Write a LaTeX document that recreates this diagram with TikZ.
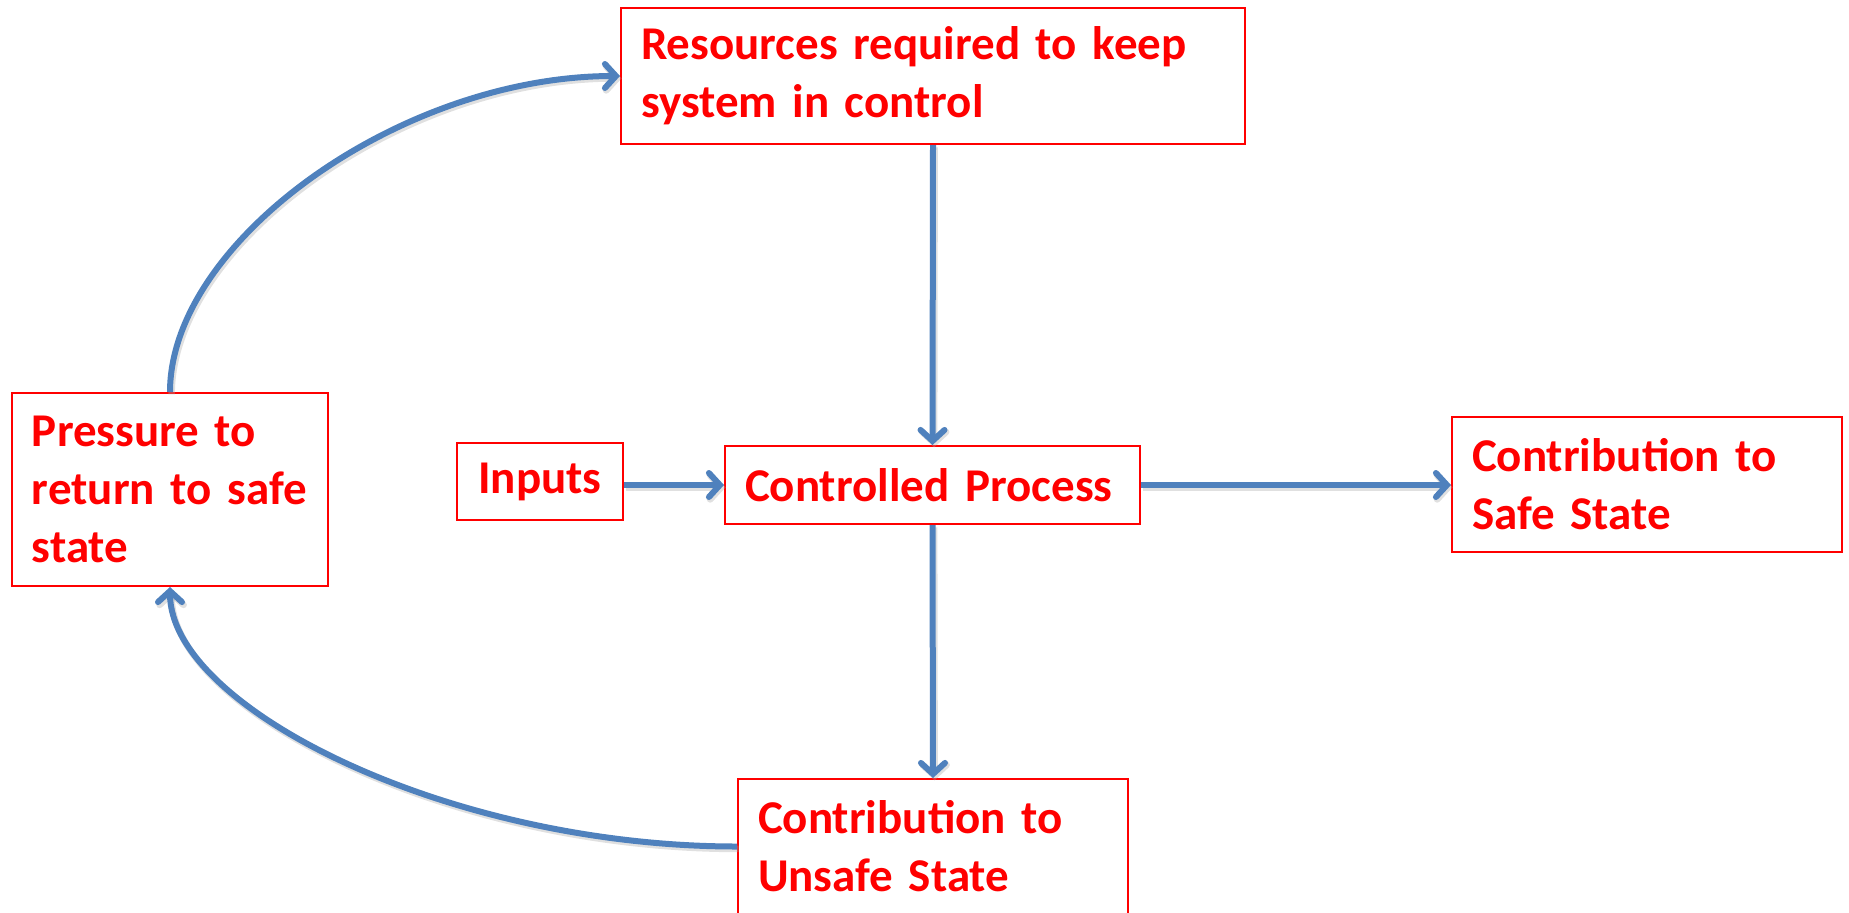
\documentclass[tikz,border=0pt]{standalone}
\usepackage{fontspec}
\setmainfont{Carlito}
\usetikzlibrary{arrows.meta}
\definecolor{flowblue}{RGB}{79,129,189}
\definecolor{boxred}{RGB}{255,0,0}
\tikzset{
  stagebox/.style={draw=boxred, line width=1pt, text=boxred, fill=white,
    font=\bfseries\fontsize{23.5pt}{29pt}\selectfont, align=left,
    inner xsep=10pt, inner ysep=0pt, minimum height=#1},
  flow/.style={draw=flowblue, line width=3pt,
    -{Straight Barb[length=5.5pt,width=12pt,line cap=round]},
    preaction={draw=black!35, opacity=0.35, line width=3.3pt,
      transform canvas={shift={(0.8pt,-1.2pt)}}}}
}
\begin{document}
\begin{tikzpicture}[x=0.5pt,y=-0.5pt]
\useasboundingbox (0,0) rectangle (1849,912);
\clip (0,0) rectangle (1849,912);

% boxes
\node[stagebox=68pt, text width=292pt] (res) at (933,76)
  {Resources required to keep\\system in control};
\node[stagebox=96.5pt, text width=138pt] (pres) at (170,489.5)
  {Pressure to\\return to safe\\state};
\node[stagebox=38.5pt, text width=63pt, align=center] (inp) at (540,481.5)
  {Inputs};
\node[stagebox=39pt, text width=187.5pt] (cp) at (932.5,485)
  {Controlled Process};
\node[stagebox=67.5pt, text width=175pt] (safe) at (1647,484.5)
  {Contribution to\\Safe State};
\node[stagebox=67.5pt, text width=175pt] (unsafe) at (933,846.5)
  {Contribution to\\Unsafe State};

% straight connectors
\draw[flow] (res.south) -- (cp.north);
\draw[flow] (cp.south) -- (unsafe.north);
\draw[flow] (cp.west -| inp.east) -- (cp.west);
\draw[flow] (cp.east) -- (cp.east -| safe.west);

% feedback loop
\draw[flow] (pres.north) .. controls +(0,-150) and +(-220,0) .. (res.west);
\draw[flow] (unsafe.west) .. controls +(-290,0) and +(0,120) .. (pres.south);
\end{tikzpicture}
\end{document}
